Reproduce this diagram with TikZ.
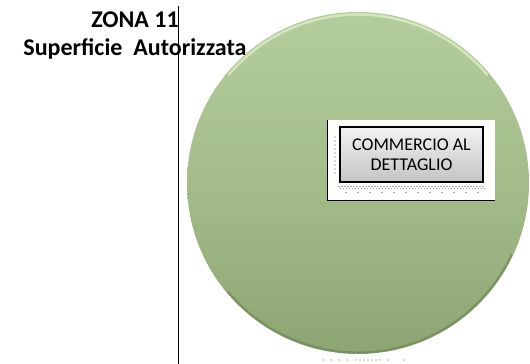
\documentclass[tikz,border=0pt]{standalone}
\usepackage{fontspec}
\setmainfont{Carlito}
\usetikzlibrary{calc}
\definecolor{gtop}{HTML}{B4CD9C}
\definecolor{gmid}{HTML}{A3BC8A}
\definecolor{gbot}{HTML}{8DA573}
\definecolor{grim}{HTML}{6F8657}
\definecolor{glight}{HTML}{DCEAC6}
\definecolor{btop}{HTML}{F2F2F2}
\definecolor{bbot}{HTML}{C4C4C4}
\definecolor{dotc}{HTML}{555555}
\tikzset{
  title/.style={font=\fontsize{24}{28}\selectfont\bfseries, align=center, inner sep=0pt},
  label/.style={font=\fontsize{18}{20}\selectfont, align=center, inner sep=0pt},
  bubble/.style={circle, minimum size=342pt, inner sep=0pt, top color=gtop, bottom color=gbot, middle color=gmid},
  whitebg/.style={fill=white, draw=none},
  grayframe/.style={draw=black, line width=2.6pt, top color=btop, bottom color=bbot},
  axisline/.style={draw=black, line width=0.9pt},
  dotsty/.style={fill=dotc}
}
\begin{document}
\begin{tikzpicture}[x=1pt,y=-1pt]
\useasboundingbox (0,0) rectangle (530,364);
\begin{scope}
\clip (0,0) rectangle (530,364);
% big green disc
\node[bubble] (disc) at (358,183) {};
% bevel rim (y axis points down, so negative angles are the upper half)
\draw[glight, line width=2.4pt, opacity=0.85, line cap=round] ($(disc.center)+(-140:168.5)$) arc[start angle=-140, end angle=-40, radius=168.5];
\draw[grim, line width=2pt, opacity=0.7, line cap=round] ($(disc.center)+(140:169.5)$) arc[start angle=140, end angle=25, radius=169.5];
\end{scope}
% vertical line
\coordinate (ltop) at (178.5,6);
\coordinate (lbot) at (178.5,364);
\draw[axisline] (ltop) -- (lbot);
% title
\node[title] (title) at (135,36) {ZONA 11\\Superficie\ \ Autorizzata};
% label box
\node[whitebg, minimum width=167pt, minimum height=80pt, inner sep=0pt] (wbox) at (411.5,160) {};
\draw[black, line width=0.9pt] (wbox.north west) -- (wbox.south west) -- (wbox.south east);
% dotted pattern
\foreach \yy in {137,141,...,173} { \fill[dotsty] (335,\yy) circle (0.6pt); }
\foreach \xx in {339,342,...,483} { \fill[dotsty] (\xx,186.5) circle (0.55pt); \fill[dotsty] (\xx+1.5,188.5) circle (0.45pt); }
\foreach \xx in {346,358,...,480} { \fill[dotsty] (\xx,192.5) circle (0.6pt); }
\node[grayframe, minimum width=143pt, minimum height=55pt, inner sep=0pt] (box) at (411.5,154.5) {};
\node[label] (txt) at (box.center) {COMMERCIO AL\\DETTAGLIO};
% dots under disc
\foreach \xx in {323,331,339,347,356,360,364,368,372,376,380,388,404} { \fill[dotsty] (\xx,360) circle (0.6pt); }
\end{tikzpicture}
\end{document}
